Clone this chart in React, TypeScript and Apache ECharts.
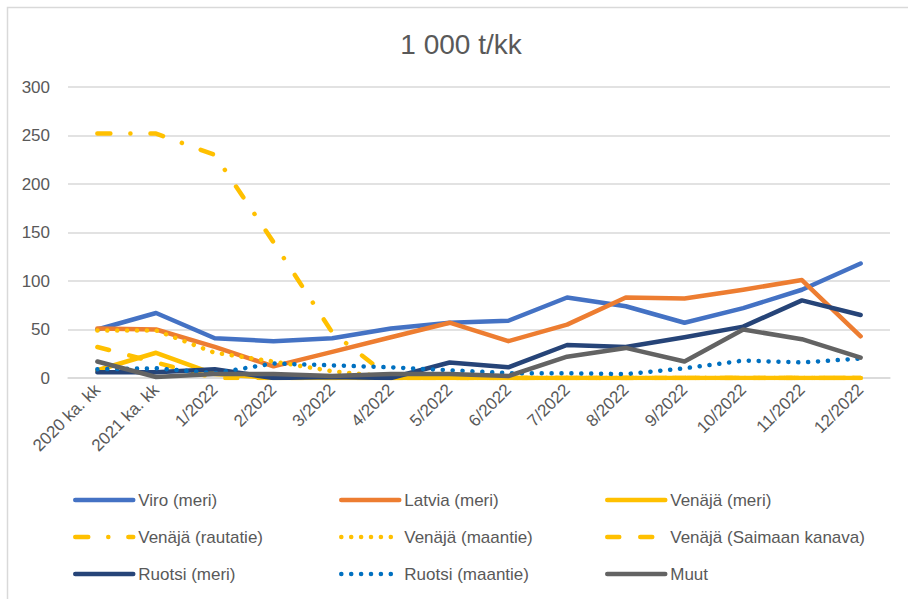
import React, { useEffect, useRef } from "react";
import * as echarts from "echarts";

const categories = [
  "2020 ka. kk", "2021 ka. kk", "1/2022", "2/2022", "3/2022", "4/2022", "5/2022",
  "6/2022", "7/2022", "8/2022", "9/2022", "10/2022", "11/2022", "12/2022",
];

const viroMeri = [50, 67, 41, 38, 41, 51, 57, 59, 83, 74, 57, 72, 91, 118];
const latviaMeri = [51, 50, 32, 12, 27, 42, 57, 38, 55, 83, 82, 91, 101, 43];
const venajaMeri = [8, 26, 4, 0, 0, 0, 0, 0, 0, 0, 0, 0, 0, 0];
const venajaRautatie = [252, 252, 230, 140, 47, 0, 0, 0, 0, 0, 0, 0, 0, 0];
const venajaMaantie = [49, 49, 26, 17, 7, 1, 0, 0, 0, 0, 0, 0, 0, 0];
const venajaSaimaa = [32, 16, 0, 0, 0, 0, 0, 0, 0, 0, 0, 0, 0, 0];
const ruotsiMeri = [6, 6, 9, 0, 1, 0, 16, 11, 34, 32, 42, 53, 80, 65];
const ruotsiMaantie = [9, 10, 5, 15, 13, 11, 8, 5, 5, 4, 10, 18, 16, 20];
const muut = [17, 1, 4, 4, 2, 4, 4, 2, 22, 31, 17, 50, 40, 21];

const yTicks = { min: 0, max: 300, interval: 50 };

const FONT = "'Liberation Sans', 'Noto Sans', sans-serif";
const TXT = "#595959";
const LW = 4.5;
const FS = 17;

export default function App() {
  const ref = useRef<HTMLDivElement>(null);

  useEffect(() => {
    if (!ref.current) return;
    const chart = echarts.init(ref.current, undefined, { renderer: "svg" });

    const mk = (name: string, data: number[], color: string, dash: any) => ({
      name,
      type: "line",
      data,
      symbol: "none",
      smooth: false,
      lineStyle: {
        color,
        width: LW,
        type: dash,
        cap: "round",
        join: "round",
      },
      itemStyle: { color },
    });

    const series = [
      mk("Viro (meri)", viroMeri, "#4472C4", "solid"),
      mk("Latvia (meri)", latviaMeri, "#ED7D31", "solid"),
      mk("Venäjä (meri)", venajaMeri, "#FFC000", "solid"),
      mk("Venäjä (rautatie)", venajaRautatie, "#FFC000", [13, 20, 0.1, 20]),
      mk("Venäjä (maantie)", venajaMaantie, "#FFC000", [0.1, 9.8]),
      mk("Venäjä (Saimaan kanava)", venajaSaimaa, "#FFC000", [12, 21]),
      mk("Ruotsi (meri)", ruotsiMeri, "#264478", "solid"),
      mk("Ruotsi (maantie)", ruotsiMaantie, "#0070C0", [0.1, 9.8]),
      mk("Muut", muut, "#636363", "solid"),
    ];

    const legendCommon = {
      orient: "vertical",
      top: 490,
      padding: 0,
      itemWidth: 58,
      itemHeight: 20,
      itemGap: 17,
      itemStyle: { opacity: 0 },
      lineStyle: { width: LW, cap: "round" },
      textStyle: { color: TXT, fontSize: FS, fontFamily: FONT, lineHeight: 20 },
      selectedMode: false,
    };

    chart.setOption({
      animation: false,
      backgroundColor: "#ffffff",
      textStyle: { fontFamily: FONT },
      title: {
        text: "1 000 t/kk",
        left: 456,
        textAlign: "center",
        top: 25,
        textStyle: { color: TXT, fontSize: 28, fontWeight: "normal", fontFamily: FONT },
      },
      graphic: [
        {
          type: "rect",
          shape: { x: 7.5, y: 7.5, width: 1000, height: 1000 },
          style: { fill: "none", stroke: "#D9D9D9", lineWidth: 1.5 },
          silent: true,
        },
      ],
      legend: [
        { ...legendCommon, left: 73, data: ["Viro (meri)", "Venäjä (rautatie)", "Ruotsi (meri)"] },
        { ...legendCommon, left: 339, data: ["Latvia (meri)", "Venäjä (maantie)", "Ruotsi (maantie)"] },
        { ...legendCommon, left: 605, data: ["Venäjä (meri)", "Venäjä (Saimaan kanava)", "Muut"] },
      ],
      grid: { left: 68, top: 87, width: 822, height: 291, containLabel: false },
      xAxis: {
        type: "category",
        data: categories,
        boundaryGap: true,
        axisLine: { show: true, lineStyle: { color: "#D9D9D9", width: 1.5 } },
        axisTick: { show: false },
        axisLabel: {
          rotate: 45,
          interval: 0,
          margin: 9,
          color: TXT,
          fontSize: FS,
          fontFamily: FONT,
        },
        splitLine: { show: false },
      },
      yAxis: {
        type: "value",
        min: yTicks.min,
        max: yTicks.max,
        interval: yTicks.interval,
        axisLine: { show: false },
        axisTick: { show: false },
        axisLabel: { color: TXT, fontSize: FS, fontFamily: FONT, margin: 18 },
        splitLine: { show: true, lineStyle: { color: "#D9D9D9", width: 1.5 } },
      },
      series,
    });

    return () => chart.dispose();
  }, []);

  return (
    <div
      ref={ref}
      style={{ position: "absolute", left: 0, top: 0, width: 908, height: 599 }}
    />
  );
}
